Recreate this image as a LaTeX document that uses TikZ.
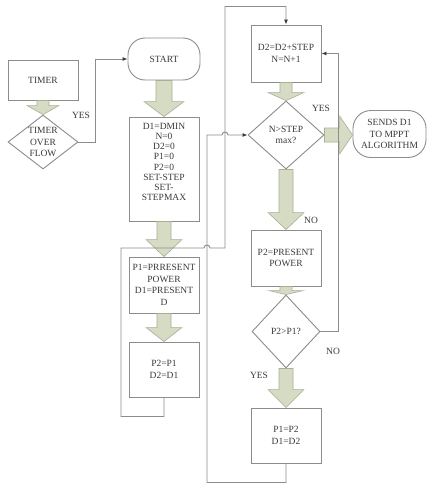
\documentclass[tikz,border=0pt]{standalone}
\usepackage{fontspec}
\setmainfont{Liberation Serif}
\usetikzlibrary{shapes.geometric,arrows.meta,calc}
\definecolor{ln}{HTML}{8C8C8C}
\definecolor{tx}{HTML}{3A3A3A}
\definecolor{bf}{HTML}{D6DBC3}
\definecolor{bd}{HTML}{A9AF95}
\tikzset{
  box/.style={draw=ln, line width=0.9pt, minimum width=70pt, align=center, inner sep=0pt,
    font=\fontsize{9.5}{11.5}\selectfont, text=tx},
  dia/.style={draw=ln, line width=0.9pt, diamond, inner sep=0pt},
  lbl/.style={font=\fontsize{9.5}{11.5}\selectfont, text=tx, align=center, inner sep=0pt},
  conn/.style={draw=ln, line width=0.9pt},
  arr/.style={conn, -{Latex[length=5pt,width=4pt,color=tx]}},
  blk/.style={fill=bf, draw=bd, line width=0.6pt}
}
\newcommand\blkdown[5]{%
  \filldraw[blk] let \p1=(#1), \p2=(#2) in
  (\x1-#4,\y1) -- (\x1-#4,\y2+#3) -- (\x1-#5,\y2+#3) -- (\x1,\y2) --
  (\x1+#5,\y2+#3) -- (\x1+#4,\y2+#3) -- (\x1+#4,\y1) -- cycle;}
\newcommand\blkright[5]{%
  \filldraw[blk] let \p1=(#1), \p2=(#2) in
  (\x1,\y1+#4) -- (\x2-#3,\y1+#4) -- (\x2-#3,\y1+#5) -- (\x2,\y1) --
  (\x2-#3,\y1-#5) -- (\x2-#3,\y1-#4) -- (\x1,\y1-#4) -- cycle;}
\begin{document}
\begin{tikzpicture}[x=1pt,y=-1pt]
\useasboundingbox[fill=white] (0,0) rectangle (435,487);

% left column
\node[box, minimum height=40pt] (timer) at (43,80) {TIMER};
\node[dia, minimum width=70pt, minimum height=54pt] (tdiam) at (43,142) {};
\node[lbl] at (tdiam) {TIMER\\OVER\\FLOW};
\node[box, rounded corners=17pt, minimum width=72pt, minimum height=42pt] (start) at (164,59) {START};
\node[box, minimum height=104pt] (init) at (164,169) {};
\node[lbl, font=\fontsize{9.5}{10.2}\selectfont] at (164,162) {D1=DMIN\\N=0\\D2=0\\P1=0\\P2=0\\SET-STEP\\SET-\\STEPMAX};
\node[box, minimum height=56pt] (p1box) at (164,285) {P1=PRRESENT\\POWER\\D1=PRESENT\\D};
\node[box, minimum height=55pt] (p2box) at (164,369.5) {P2=P1\\D2=D1};

% right column
\node[box, minimum height=57pt] (d2box) at (286,53.5) {D2=D2+STEP\\N=N+1};
\node[dia, minimum width=76pt, minimum height=68pt] (ndiam) at (286,135) {};
\node[lbl] at (ndiam) {N>STEP\\max?};
\node[box, rounded corners=18pt, minimum width=73pt, minimum height=47pt] (sends) at (389.5,134) {SENDS D1\\TO MPPT\\ALGORITHM};
\node[box, minimum height=56pt] (ppbox) at (286,258) {P2=PRESENT\\POWER};
\node[dia, minimum width=68pt, minimum height=73pt] (pdiam) at (286,331.5) {};
\node[lbl] at (pdiam) {P2>P1?};
\node[box, minimum height=55pt] (p12box) at (286,435.5) {P1=P2\\D1=D2};

% labels
\node[lbl] (yes1) at (81,115) {YES};
\node[lbl] (yes2) at (321,108) {YES};
\node[lbl] (no1) at (311,220) {NO};
\node[lbl] (no2) at (333,351) {NO};
\node[lbl] (yes3) at (259,375) {YES};

% block arrows
\blkdown{timer.south}{tdiam.north}{9pt}{6pt}{16pt}
\blkdown{start.south}{init.north}{15pt}{8pt}{20pt}
\blkdown{init.south}{p1box.north}{17pt}{7pt}{18pt}
\blkdown{p1box.south}{p2box.north}{14pt}{7pt}{18pt}
\blkdown{d2box.south}{ndiam.north}{8pt}{6pt}{18pt}
\blkdown{ndiam.south}{ppbox.north}{17pt}{7pt}{18pt}
\blkdown{ppbox.south}{pdiam.north}{4pt}{6pt}{17pt}
\blkdown{pdiam.south}{p12box.north}{18pt}{7pt}{18pt}
\blkright{ndiam.east}{sends.west}{13pt}{7pt}{19pt}

% connectors
\draw[arr] (tdiam.east) -- ++(17,0) |- (start.west);
\draw[arr] (p2box.south) -- ++(0,19) -| (121,248) -- (204,248)
  arc[start angle=180, end angle=360, radius=3] -- (225,248) |- ($(d2box.north)+(0,-18)$) -- (d2box.north);
\draw[arr] (p12box.south) -- ++(0,19) -| (207,135) -- (222,135)
  arc[start angle=180, end angle=360, radius=3] -- (ndiam.west);
\draw[arr] (pdiam.east) -- ++(18,0) |- (d2box.east);
\end{tikzpicture}
\end{document}
